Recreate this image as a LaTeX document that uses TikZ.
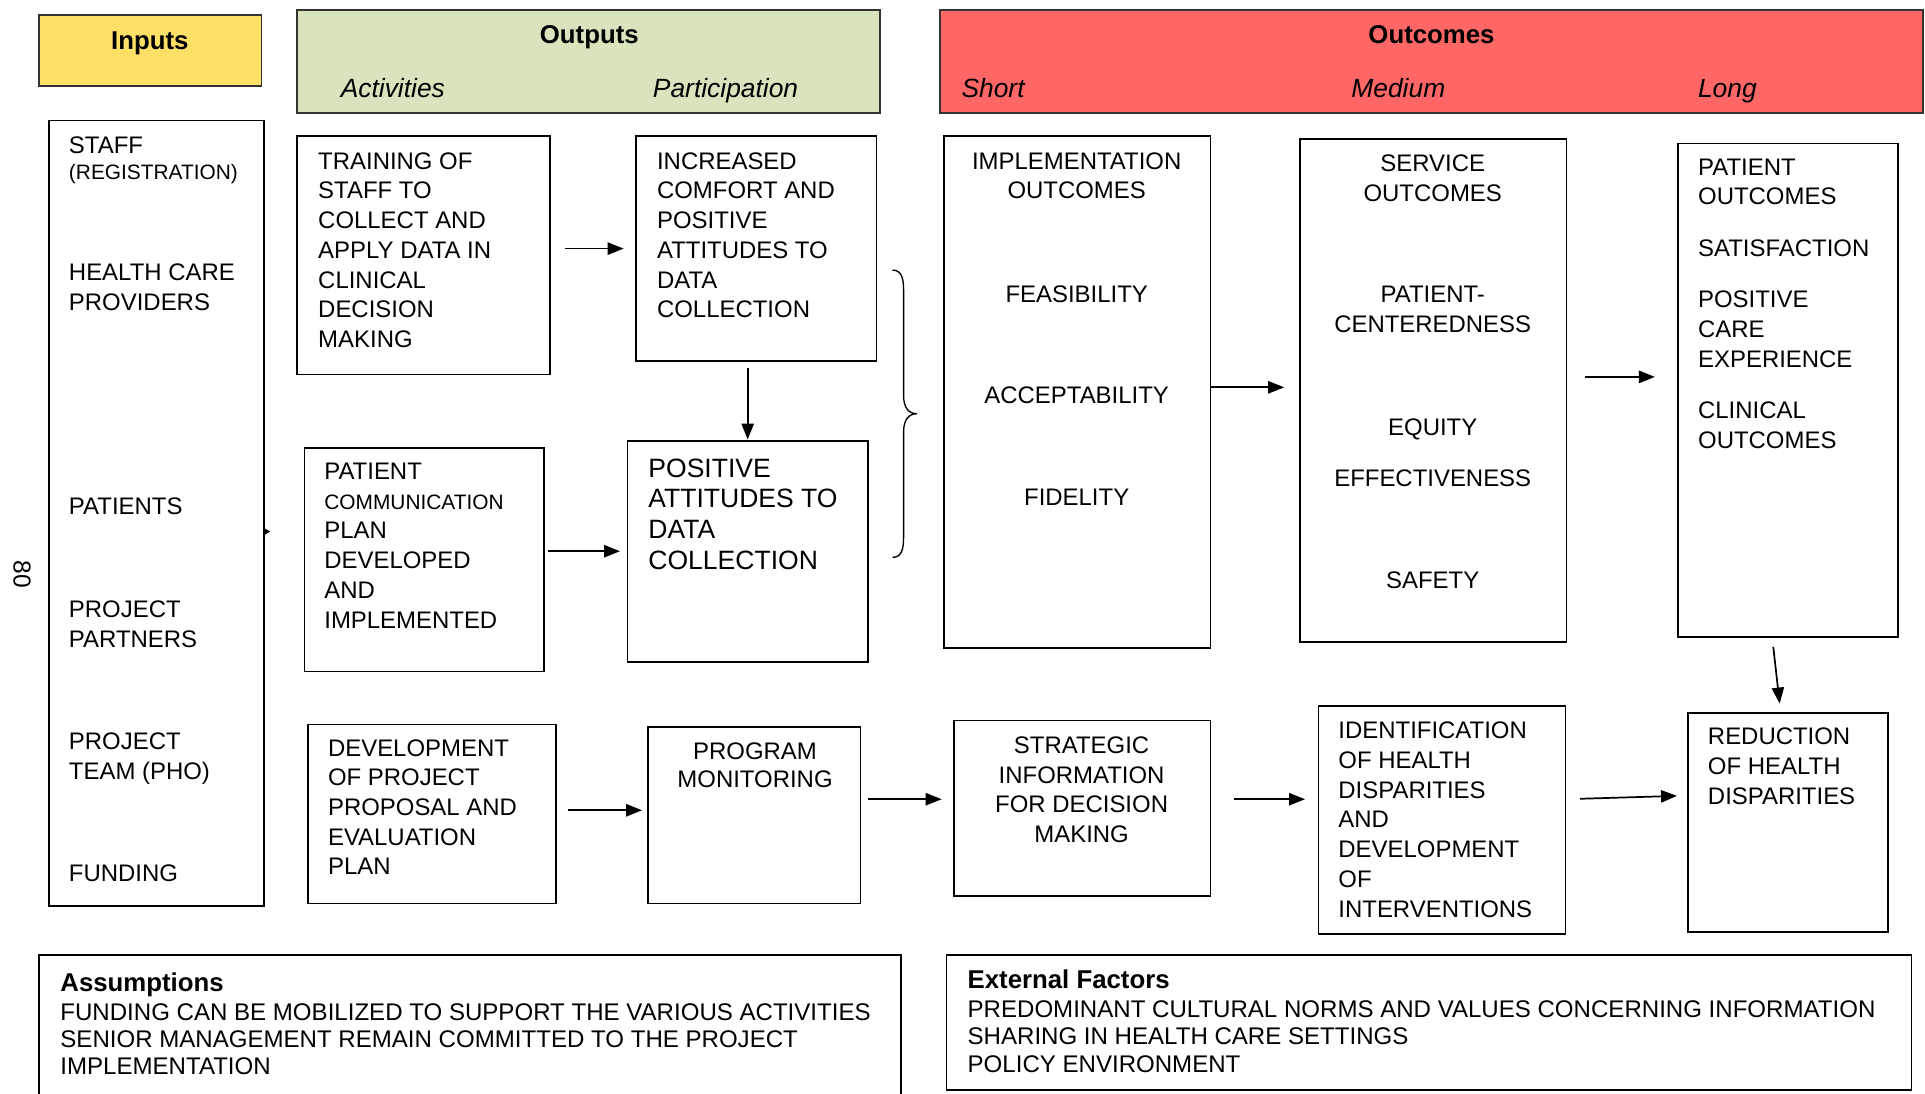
\documentclass[tikz,border=0pt]{standalone}
\usepackage{fontspec}
\setmainfont{Liberation Sans}
\usetikzlibrary{arrows.meta}
\definecolor{inyel}{HTML}{FFE066}
\definecolor{outgrn}{HTML}{D7E4BD}
\definecolor{ocred}{HTML}{FF6666}
\newcommand\fbody{\fontsize{19.5}{24.2}\selectfont}
\newcommand\fsmall{\fontsize{17}{22}\selectfont}
\newcommand\fbig{\fontsize{21.6}{25}\selectfont}
\newcommand\fhead{\bfseries\fontsize{21}{25}\selectfont}
\newcommand\fsub{\itshape\fontsize{21.5}{25}\selectfont}
\newcommand\fnote{\fontsize{19.6}{22.2}\selectfont}
\begin{document}
\begin{tikzpicture}[x=1pt,y=-1pt,
  box/.style={draw, line width=1.3pt, anchor=north west, inner sep=0pt, outer sep=0pt},
  hdr/.style={box, draw=black!80, line width=1.6pt},
  tl/.style={inner sep=0pt, anchor=north west, align=left, font=\fbody},
  tc/.style={inner sep=0pt, anchor=north, align=center, font=\fbody},
  bl/.style={inner sep=0pt, anchor=base west, font=\fbody},
  bc/.style={inner sep=0pt, anchor=base, font=\fbody},
  arr/.style={-{Triangle[length=13pt,width=10pt]}, line width=1.4pt}
]
\useasboundingbox (0,0) rectangle (1568,891);
\clip (0,0) rectangle (1568,891);

% header boxes
\node[hdr, fill=inyel, minimum width=181pt, minimum height=58pt] (hIn) at (32,12) {};
\node[hdr, fill=outgrn, minimum width=475pt, minimum height=84pt] (hOut) at (242,8) {};
\node[hdr, fill=ocred, minimum width=800pt, minimum height=84pt] (hOc) at (766,8) {};

\node[bc, font=\fhead] (tIn) at (122,40.5) {Inputs};
\node[bc, font=\fhead] (tOut) at (480,35.5) {Outputs};
\node[bc, font=\fsub] (tAct) at (320,79.7) {Activities};
\node[bc, font=\fsub] (tPart) at (591,79.7) {Participation};
\node[bc, font=\fhead] (tOc) at (1166,35.5) {Outcomes};
\node[bl, font=\fsub] (tShort) at (783,79.7) {Short};
\node[bc, font=\fsub] (tMed) at (1139,79.7) {Medium};
\node[bc, font=\fsub] (tLong) at (1407,79.7) {Long};

% boxes
\node[box, minimum width=175pt, minimum height=640pt] (inlist) at (40,98) {};
\node[box, minimum width=206pt, minimum height=194pt] (train) at (242,111) {};
\node[box, minimum width=196pt, minimum height=183pt] (incr) at (518,111) {};
\node[box, minimum width=195pt, minimum height=182pt] (pcomm) at (248,365) {};
\node[box, minimum width=196pt, minimum height=180pt] (posatt) at (511,359) {};
\node[box, minimum width=217pt, minimum height=417pt] (impl) at (769,111) {};
\node[box, minimum width=217pt, minimum height=410pt] (serv) at (1059,113) {};
\node[box, minimum width=179pt, minimum height=402pt] (pout) at (1367,117) {};
\node[box, minimum width=202pt, minimum height=146pt] (devp) at (251,590) {};
\node[box, minimum width=173pt, minimum height=144pt] (prog) at (528,592) {};
\node[box, minimum width=209pt, minimum height=143pt] (strat) at (777,587) {};
\node[box, minimum width=201pt, minimum height=186pt] (ident) at (1074,575) {};
\node[box, minimum width=163pt, minimum height=178pt] (reduc) at (1375,581) {};
\node[box, minimum width=702pt, minimum height=130pt] (assum) at (32,778) {};
\node[box, minimum width=786pt, minimum height=110pt] (extf) at (771,778) {};

% inputs list
\node[bl] (iStaff) at (56,125) {STAFF};
\node[bl, font=\fsmall] (iReg) at (56,146.2) {(REGISTRATION)};
\node[tl] (iHcp) at (56,215) {HEALTH CARE\\PROVIDERS};
\node[bl] (iPat) at (56,419) {PATIENTS};
\node[tl] (iPP) at (56,489) {PROJECT\\PARTNERS};
\node[tl] (iPT) at (56,597) {PROJECT\\TEAM (PHO)};
\node[bl] (iFund) at (56,718) {FUNDING};

% outputs texts
\node[tl] (tTrain) at (259,124) {TRAINING OF\\STAFF TO\\COLLECT AND\\APPLY DATA IN\\CLINICAL\\DECISION\\MAKING};
\node[tl] (tIncr) at (535,124) {INCREASED\\COMFORT AND\\POSITIVE\\ATTITUDES TO\\DATA\\COLLECTION};
\node[tl] (tPcomm) at (264,377) {PATIENT\\{\fsmall COMMUNICATION}\\PLAN\\DEVELOPED\\AND\\IMPLEMENTED};
\node[tl, font=\fbig] (tPos) at (528,373.3) {POSITIVE\\ATTITUDES TO\\DATA\\COLLECTION};
\node[tl] (tDev) at (267,602) {DEVELOPMENT\\OF PROJECT\\PROPOSAL AND\\EVALUATION\\PLAN};
\node[tc, font=\fontsize{19.5}{23}\selectfont] (tProg) at (615,605) {PROGRAM\\MONITORING};

% outcomes texts
\node[tc] (tImpl) at (877,124) {IMPLEMENTATION\\OUTCOMES};
\node[bc] (tFeas) at (877,246) {FEASIBILITY};
\node[bc] (tAcc) at (877,329) {ACCEPTABILITY};
\node[bc] (tFid) at (877,412) {FIDELITY};

\node[tc] (tServ) at (1167,126) {SERVICE\\OUTCOMES};
\node[tc] (tPC) at (1167,233) {PATIENT-\\CENTEREDNESS};
\node[bc] (tEq) at (1167,355) {EQUITY};
\node[bc] (tEff) at (1167,396) {EFFECTIVENESS};
\node[bc] (tSaf) at (1167,479) {SAFETY};

\node[tl] (tPO) at (1383,129) {PATIENT\\OUTCOMES};
\node[bl] (tSat) at (1383,209) {SATISFACTION};
\node[tl] (tPCE) at (1383,237) {POSITIVE\\CARE\\EXPERIENCE};
\node[tl] (tCO) at (1383,327) {CLINICAL\\OUTCOMES};

\node[tc] (tStrat) at (881,600) {STRATEGIC\\INFORMATION\\FOR DECISION\\MAKING};
\node[tl] (tIdent) at (1090,588) {IDENTIFICATION\\OF HEALTH\\DISPARITIES\\AND\\DEVELOPMENT\\OF\\INTERVENTIONS};
\node[tl] (tRed) at (1391,593) {REDUCTION\\OF HEALTH\\DISPARITIES};

% assumptions / external factors
\node[bl, font=\fhead] (tAs) at (49,807.5) {Assumptions};
\node[tl, font=\fnote] (tAsL) at (49,817) {FUNDING CAN BE MOBILIZED TO SUPPORT THE VARIOUS ACTIVITIES\\SENIOR MANAGEMENT REMAIN COMMITTED TO THE PROJECT\\IMPLEMENTATION};
\node[bl, font=\fhead] (tEx) at (788,805.5) {External Factors};
\node[tl, font=\fnote] (tExL) at (788,815) {PREDOMINANT CULTURAL NORMS AND VALUES CONCERNING INFORMATION\\SHARING IN HEALTH CARE SETTINGS\\POLICY ENVIRONMENT};

% page number
\node[inner sep=0pt, rotate=-90, font=\fontsize{20}{24}\selectfont] (pgno) at (18,468) {80};

% brace
\draw[line width=1.1pt] (727,220) .. controls (734,220) and (736,226) .. (736,236) -- (736,322)
  .. controls (736,332) and (740,337) .. (747,337) .. controls (740,337) and (736,342) .. (736,352)
  -- (736,438) .. controls (736,448) and (734,454) .. (727,454);

% tiny tick on inputs box
\fill (inlist.east |- 0,430) -- (220,433) -- (inlist.east |- 0,436) -- cycle;

% arrows
\draw[arr, shorten <=12pt, shorten >=10pt] (train.east |- incr.west) -- (incr.west);
\draw[arr, shorten <=6pt, shorten >=1pt] (incr.south -| posatt.north) -- (posatt.north);
\draw[arr, shorten <=3pt, shorten >=6pt] (pcomm.east |- posatt.west) -- (posatt.west);
\draw[arr, shorten >=13pt] ([yshift=4pt]impl.east) -- ([yshift=4pt]impl.east -| serv.west);
\draw[arr, shorten <=15pt, shorten >=19pt] ([yshift=11pt]serv.east) -- ([yshift=11pt]serv.east -| pout.west);
\draw[arr, shorten <=8pt, shorten >=8pt] ([xshift=-13pt]pout.south) -- ([xshift=-6pt]reduc.north);
\draw[arr, shorten <=10pt, shorten >=5pt] ([yshift=3pt]devp.east) -- ([yshift=3pt]devp.east -| prog.west);
\draw[arr, shorten <=6pt, shorten >=10pt] ([yshift=13pt]prog.east) -- ([yshift=13pt]prog.east -| strat.west);
\draw[arr, shorten <=19pt, shorten >=11pt] ([yshift=7.5pt]strat.east) -- ([yshift=7.5pt]strat.east -| ident.west);
\draw[arr, shorten <=12pt, shorten >=9pt] ([yshift=17pt]ident.east) -- ([yshift=22pt]reduc.west);
\end{tikzpicture}
\end{document}
